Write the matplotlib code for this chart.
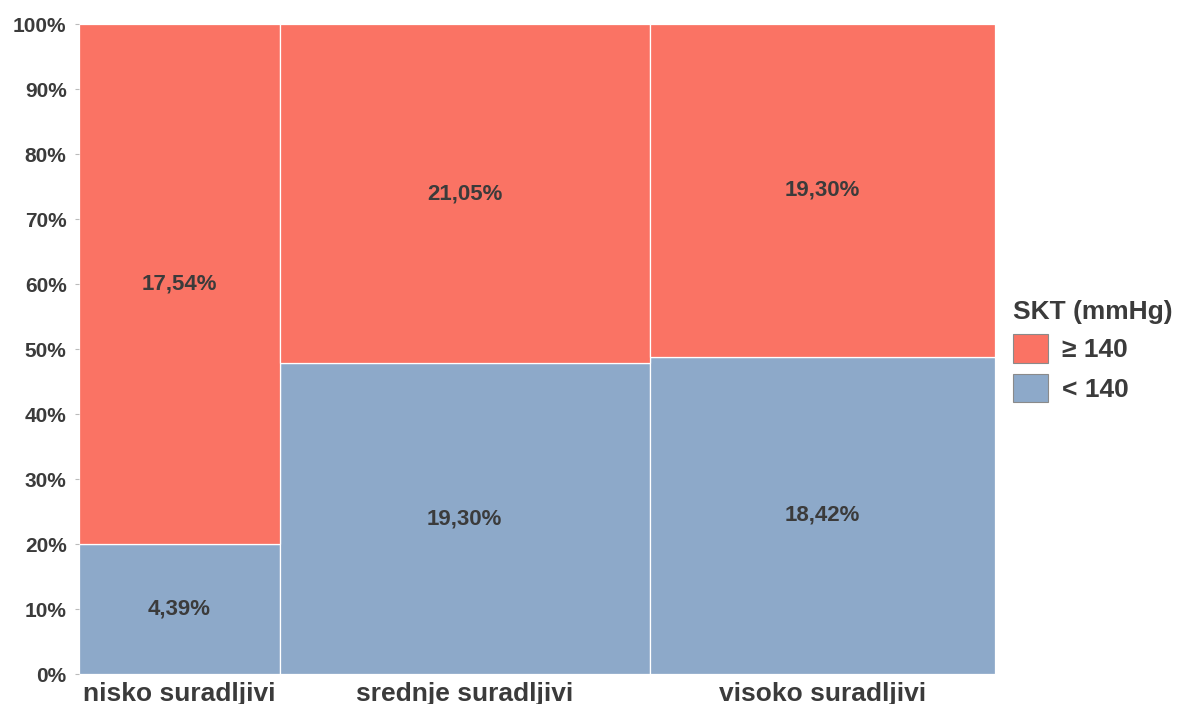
import matplotlib.pyplot as plt
from matplotlib.patches import Patch
import numpy as np

plt.rcParams["font.family"] = ["Liberation Sans", "DejaVu Sans"]
plt.rcParams["font.weight"] = "bold"

# Data (percent of all subjects)
categories = ["nisko suradljivi", "srednje suradljivi", "visoko suradljivi"]
low_values = [4.39, 19.30, 18.42]    # SKT < 140
high_values = [17.54, 21.05, 19.30]  # SKT >= 140
legend_labels = ["\u2265 140", "< 140"]

RED = "#FA7364"
BLUE = "#8DA9C9"
TEXT = "#3b3b3b"

low = np.array(low_values)
high = np.array(high_values)
totals = low + high
widths = totals / totals.sum()
lefts = np.concatenate([[0], np.cumsum(widths)[:-1]])
low_frac = low / totals
high_frac = high / totals

fig = plt.figure(figsize=(11.83, 7.04), dpi=100)
ax = fig.add_axes([0.0668, 0.0426, 0.7743, 0.9233])

ax.bar(lefts, low_frac, width=widths, align="edge", color=BLUE,
       edgecolor="white", linewidth=0.9)
ax.bar(lefts, high_frac, width=widths, bottom=low_frac, align="edge",
       color=RED, edgecolor="white", linewidth=0.9)

for l, w, lf, hf, lv, hv in zip(lefts, widths, low_frac, high_frac, low, high):
    ax.text(l + w / 2, lf / 2, f"{lv:.2f}%".replace(".", ","), ha="center",
            va="center", fontsize=16, color=TEXT, fontweight="bold")
    ax.text(l + w / 2, lf + hf / 2, f"{hv:.2f}%".replace(".", ","),
            ha="center", va="center", fontsize=16, color=TEXT,
            fontweight="bold")

ax.set_xlim(0, 1)
ax.set_ylim(0, 1)
ax.set_yticks(np.arange(0, 1.01, 0.1))
ax.set_yticklabels([f"{int(round(v * 100))}%" for v in np.arange(0, 1.01, 0.1)],
                   fontsize=15, color=TEXT, fontweight="bold")
ax.set_xticks(lefts + widths / 2)
ax.set_xticklabels(categories, fontsize=19, color=TEXT, fontweight="bold")
ax.tick_params(axis="y", length=3, color="#bbbbbb", pad=6)
ax.tick_params(axis="x", length=0, pad=6)
for s in ax.spines.values():
    s.set_visible(False)

handles = [Patch(facecolor=RED, edgecolor="#8a8a8a", linewidth=0.8),
           Patch(facecolor=BLUE, edgecolor="#8a8a8a", linewidth=0.8)]
leg = ax.legend(handles, legend_labels, title="SKT (mmHg)", loc="center left",
                bbox_to_anchor=(0.994, 0.497), frameon=False, fontsize=19,
                title_fontsize=19, handlelength=1.3, handleheight=1.3,
                labelspacing=0.4, handletextpad=0.55, labelcolor=TEXT,
                alignment="left", borderaxespad=0.5)
leg.get_title().set_color(TEXT)
leg.get_title().set_fontweight("bold")
for t in leg.get_texts():
    t.set_fontweight("bold")

fig.savefig("out.png", dpi=100)
